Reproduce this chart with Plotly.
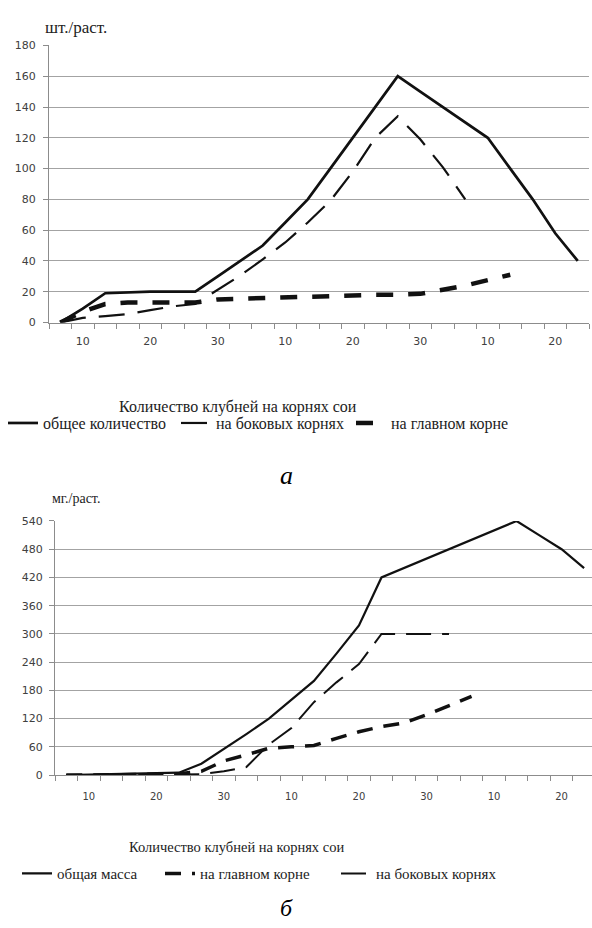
import plotly.graph_objects as go

# ---------------- data ----------------
periods = list(range(24))                      # category index (≈ every 3–4 days)
tick_positions = [1, 4, 7, 10, 13, 16, 19, 22]
tick_labels = ["10", "20", "30", "10", "20", "30", "10", "20"]
boundaries = [i - 0.5 for i in range(25)]

# (a) number of nodules, шт./раст.
top_total = [0, 9, 19, 19.5, 20, 20, 20, 30, 40, 50, 65, 80, 100, 120, 140, 160,
             150, 140, 130, 120, 100, 80, 58, 40]
top_lateral = [0, 3, 4.2, 5.5, 8, 10.5, 12, 21, 30.5, 41, 52, 65, 79, 98, 120, 134,
               119, 101, 80]
top_main = [0, 7, 12, 13, 13, 13, 13, 15, 15.5, 16, 16.5, 17, 17.3, 17.8, 18, 18,
            18.6, 21.3, 24, 27.5, 31]

# (б) mass of nodules, мг./раст.
bot_total = [0, 1, 2, 3, 4, 5, 24, 55, 87, 120, 160, 200, 258, 318, 420, 440,
             460, 480, 500, 520, 540, 510, 480, 440]
bot_main = [0, 0, 1, 1, 2, 3, 8, 30, 43, 57, 60, 63, 78, 92, 103, 111, 128, 148, 167]
bot_lateral = [0, 0, 0, 0, 1, 1, 2, 8, 17, 65, 100, 155, 197, 236, 300, 300, 300, 300]

W, H = 592, 928


def px(x):
    return x / W


def py(y):
    return (H - y) / H


INK = "#111111"
GRID = "#a3a3a3"
AXC = "#8c8c8c"
SERIF = "Liberation Serif"
SANS = "DejaVu Sans"

fig = go.Figure()

# ---- top chart traces ----
fig.add_trace(go.Scatter(x=periods[:len(top_total)], y=top_total, mode="lines",
                         name="общее количество",
                         line=dict(color=INK, width=2.7),
                         xaxis="x", yaxis="y", legend="legend"))
fig.add_trace(go.Scatter(x=periods[:len(top_lateral)], y=top_lateral, mode="lines",
                         name="на боковых корнях",
                         line=dict(color=INK, width=2.2, dash="26px,13px"),
                         xaxis="x", yaxis="y", legend="legend2"))
fig.add_trace(go.Scatter(x=periods[:len(top_main)], y=top_main, mode="lines",
                         name="на главном корне",
                         line=dict(color=INK, width=4.5, dash="17px,15px"),
                         xaxis="x", yaxis="y", legend="legend3"))

# ---- bottom chart traces ----
fig.add_trace(go.Scatter(x=periods[:len(bot_total)], y=bot_total, mode="lines",
                         name="общая масса",
                         line=dict(color=INK, width=2.2),
                         xaxis="x2", yaxis="y2", legend="legend4"))
fig.add_trace(go.Scatter(x=periods[:len(bot_main)], y=bot_main, mode="lines",
                         name="на главном корне",
                         line=dict(color=INK, width=3.5, dash="16px,11px"),
                         xaxis="x2", yaxis="y2", legend="legend5"))
fig.add_trace(go.Scatter(x=periods[:len(bot_lateral)], y=bot_lateral, mode="lines",
                         name="на боковых корнях",
                         line=dict(color=INK, width=2.0, dash="25px,11px"),
                         xaxis="x2", yaxis="y2", legend="legend6"))


def xaxis_cfg(domain, rng, anchor, fsize, standoff):
    return dict(domain=domain, range=rng, anchor=anchor,
                tickmode="array", tickvals=tick_positions, ticktext=tick_labels,
                ticks="", showgrid=False, zeroline=False,
                showline=True, linecolor=AXC, linewidth=1,
                minor=dict(tickmode="array", tickvals=boundaries, ticks="outside",
                           ticklen=5, tickcolor=AXC, tickwidth=1, showgrid=False),
                tickfont=dict(family=SANS, size=fsize, color="#404040"),
                ticklabelstandoff=standoff, fixedrange=True)


def yaxis_cfg(domain, rng, dtick, anchor, fsize, standoff):
    return dict(domain=domain, range=rng, anchor=anchor, dtick=dtick, tick0=0,
                showgrid=True, gridcolor=GRID, gridwidth=1, zeroline=False,
                showline=True, linecolor=AXC, linewidth=1,
                ticks="outside", ticklen=5, tickcolor=AXC,
                tickfont=dict(family=SANS, size=fsize, color="#404040"),
                ticklabelstandoff=standoff, fixedrange=True)


def legend_cfg(x_left, y_center, fsize):
    return dict(orientation="h", x=px(x_left), y=py(y_center),
                xanchor="left", yanchor="middle",
                bgcolor="rgba(0,0,0,0)", borderwidth=0,
                font=dict(family=SERIF, size=fsize, color="#222222"),
                itemwidth=30)


fig.update_layout(
    width=W, height=H,
    margin=dict(l=0, r=0, t=0, b=0),
    paper_bgcolor="white", plot_bgcolor="white",
    showlegend=True,
    xaxis=xaxis_cfg([px(49), px(589)], [-0.5, 23.5], "y", 11, 8),
    yaxis=yaxis_cfg([py(321), py(40)], [0, 180], 20, "x", 11, 5),
    xaxis2=xaxis_cfg([px(55), 1.0], [-0.5, 23.35], "y2", 10, 12),
    yaxis2=yaxis_cfg([py(780), py(522.3)], [0, 540], 60, "x2", 11, 4),
    legend=legend_cfg(3, 423, 16),
    legend2=legend_cfg(176, 423, 16),
    legend3=legend_cfg(351, 423, 16),
    legend4=legend_cfg(17, 880, 15),
    legend5=legend_cfg(160, 880, 15),
    legend6=legend_cfg(336, 880, 15),
    annotations=[
        dict(text="шт./раст.", x=px(43), y=py(22), xref="paper", yref="paper",
             xanchor="left", yanchor="middle", showarrow=False,
             font=dict(family=SERIF, size=17, color="#222222")),
        dict(text="мг./раст.", x=px(50), y=py(500), xref="paper", yref="paper",
             xanchor="left", yanchor="middle", showarrow=False,
             font=dict(family=SERIF, size=14, color="#222222")),
        dict(text="Количество клубней на корнях сои", x=px(238), y=py(406.5),
             xref="paper", yref="paper", xanchor="center", yanchor="middle",
             showarrow=False, font=dict(family=SERIF, size=16, color="#222222")),
        dict(text="Количество клубней на корнях сои", x=px(236), y=py(853),
             xref="paper", yref="paper", xanchor="center", yanchor="middle",
             showarrow=False, font=dict(family=SERIF, size=14.5, color="#222222")),
        dict(text="<i>а</i>", x=px(286), y=py(476), xref="paper", yref="paper",
             xanchor="center", yanchor="middle", showarrow=False,
             font=dict(family=SERIF, size=26, color="#000000")),
        dict(text="<i>б</i>", x=px(286), y=py(915), xref="paper", yref="paper",
             xanchor="center", yanchor="middle", showarrow=False,
             font=dict(family=SERIF, size=24, color="#000000")),
    ],
)

fig.write_html("out.html",
               config={"displayModeBar": False},
               post_script="document.body.style.margin='0';"
                           "document.body.style.padding='0';")
